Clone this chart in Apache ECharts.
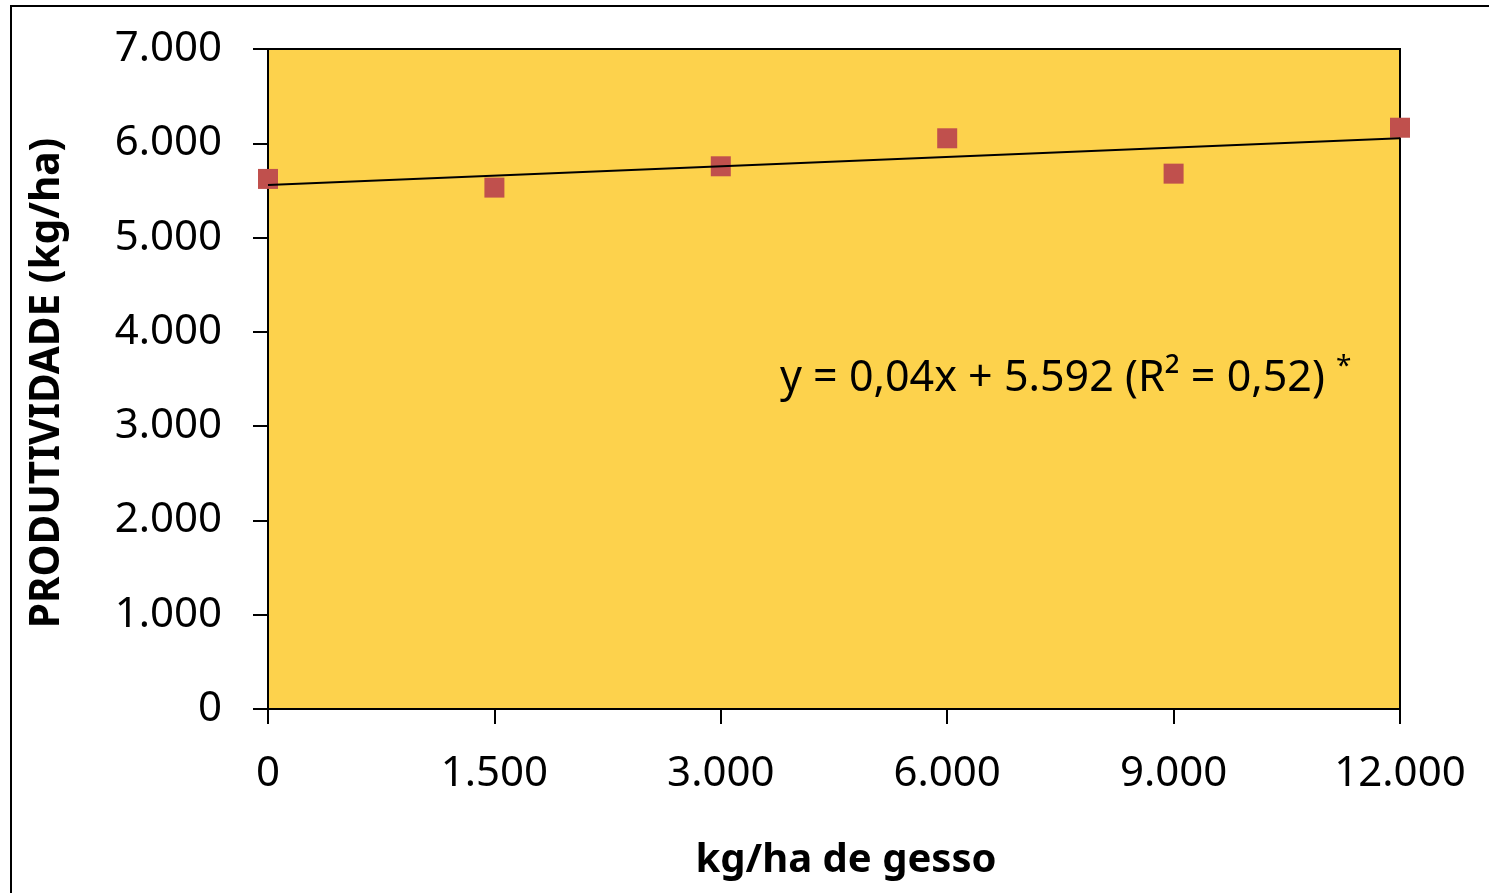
<!DOCTYPE html>
<html>
<head>
<meta charset="utf-8">
<script src="https://cdn.jsdelivr.net/npm/echarts@6/dist/echarts.min.js"></script>
<style>
html,body{margin:0;padding:0;background:#fff;}
#chart{width:1489px;height:893px;}
</style>
</head>
<body>
<div id="chart"></div>
<script>
// Data
const doses = ['0', '1.500', '3.000', '6.000', '9.000', '12.000'];
const yields = [5622, 5530, 5756, 6053, 5678, 6165];
// Trend line end values (at first and last dose)
const trendLine = [5558, 6053];
const equationText = 'y = 0,04x + 5.592 (R² = 0,52) ';
const yAxisTitle = 'PRODUTIVIDADE (kg/ha)';
const xAxisTitle = 'kg/ha de gesso';

const FONT = '"Noto Sans", "Open Sans", sans-serif';
const fmtThousands = v => String(v).replace(/\B(?=(\d{3})+(?!\d))/g, '.');

const chart = echarts.init(document.getElementById('chart'), null, {renderer: 'canvas'});
chart.setOption({
  backgroundColor: '#ffffff',
  animation: false,
  grid: {
    left: 268, right: 89, top: 49, bottom: 184,
    show: true, backgroundColor: '#FDD24C', borderColor: '#000', borderWidth: 2
  },
  xAxis: {
    type: 'category',
    data: doses,
    boundaryGap: false,
    name: xAxisTitle,
    nameLocation: 'middle',
    nameGap: 132,
    nameTextStyle: {fontFamily: FONT, fontSize: 40, fontWeight: 'bold', color: '#000', padding: [0, 0, 0, 24]},
    axisLine: {lineStyle: {color: '#000', width: 2}},
    axisTick: {show: true, length: 15, lineStyle: {color: '#000', width: 2}},
    axisLabel: {fontFamily: FONT, fontSize: 42, color: '#000', margin: 44},
    splitLine: {show: false}
  },
  yAxis: {
    type: 'value',
    min: 0, max: 7000, interval: 1000,
    name: yAxisTitle,
    nameLocation: 'middle',
    nameRotate: 90,
    nameGap: 200,
    nameTextStyle: {fontFamily: FONT, fontSize: 40.5, fontWeight: 'bold', color: '#000', padding: [0, 8, 0, 0]},
    axisLine: {show: true, lineStyle: {color: '#000', width: 2}},
    axisTick: {show: true, length: 15, lineStyle: {color: '#000', width: 2}},
    axisLabel: {fontFamily: FONT, fontSize: 42, color: '#000', margin: 46, formatter: fmtThousands},
    splitLine: {show: false}
  },
  series: [
    {
      type: 'scatter',
      data: yields,
      symbol: 'rect',
      symbolSize: 20,
      itemStyle: {color: '#C0504D', opacity: 1},
      z: 2
    },
    {
      type: 'line',
      data: [[doses[0], trendLine[0]], [doses[doses.length - 1], trendLine[1]]],
      symbol: 'none',
      lineStyle: {color: '#000', width: 2},
      z: 3
    }
  ],
  graphic: [
    {
      type: 'rect',
      shape: {x: 11, y: 6, width: 1600, height: 1000},
      style: {fill: 'none', stroke: '#000', lineWidth: 2},
      silent: true, z: 100
    },
    {
      type: 'text',
      left: 780, top: 353,
      style: {
        text: '{m|' + equationText + '}{s|*}',
        rich: {
          m: {fontFamily: FONT, fontSize: 43, fill: '#000'},
          s: {fontFamily: FONT, fontSize: 28, fill: '#000', verticalAlign: 'top', padding: [0, 0, 24, 0]}
        }
      },
      z: 100
    }
  ]
});
</script>
</body>
</html>
